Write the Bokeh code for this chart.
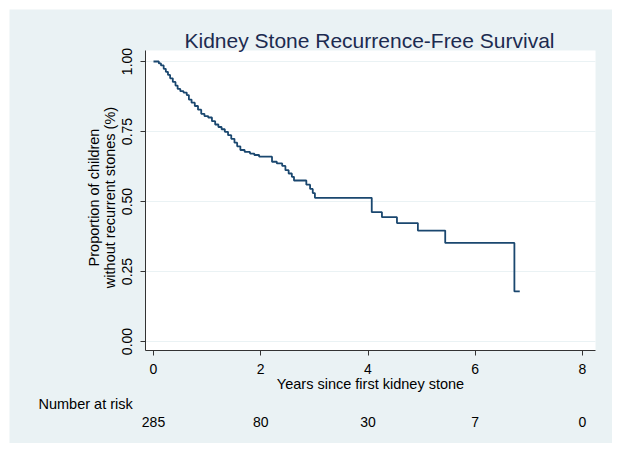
import math
from bokeh.plotting import figure
from bokeh.models import Range1d, FixedTicker, Label, BoxAnnotation
from bokeh.embed import file_html
from bokeh.resources import INLINE

# ---- data ----
times = [0.0, 0.10, 0.14, 0.19, 0.23, 0.27, 0.31, 0.36, 0.41, 0.45, 0.50, 0.56,
         0.62, 0.66, 0.71, 0.77, 0.83, 0.89, 0.95, 1.02, 1.09, 1.15, 1.21, 1.27,
         1.33, 1.39, 1.45, 1.51, 1.56, 1.62, 1.70, 1.80, 1.88, 1.97, 2.21, 2.30,
         2.40, 2.46, 2.52, 2.58, 2.62, 2.85, 2.92, 2.97, 3.01, 4.07, 4.26, 4.54,
         4.93, 5.44, 6.73, 6.83]
surv = [1.0, 0.993, 0.986, 0.974, 0.963, 0.952, 0.940, 0.927, 0.914, 0.902, 0.894, 0.889,
        0.880, 0.864, 0.853, 0.841, 0.828, 0.813, 0.805, 0.800, 0.787, 0.775, 0.766, 0.758,
        0.749, 0.737, 0.724, 0.710, 0.697, 0.684, 0.677, 0.671, 0.666, 0.660, 0.642, 0.636,
        0.627, 0.612, 0.600, 0.588, 0.575, 0.560, 0.545, 0.530, 0.513, 0.462, 0.444, 0.423,
        0.396, 0.352, 0.179, 0.179]

x_ticks = [0, 2, 4, 6, 8]
y_ticks = [0, 0.25, 0.5, 0.75, 1.0]
at_risk = ["285", "80", "30", "7", "0"]

title_text = "Kidney Stone Recurrence-Free Survival"
x_title = "Years since first kidney stone"
y_title = ["Proportion of children", "without recurrent stones (%)"]

# ---- layout constants ----
PANEL = "#EAF2F4"
LINE = "#1A476F"
FONT = "Liberation Sans"

OX, OY = 9, 9          # page offset of the panel
W, H = 603, 434        # panel size (whole canvas is the frame)
PX_X, PX_Y = 53.625, 280.0   # pixels per data unit
X0_PAGE, Y0_PAGE = 153, 341  # page position of data (0, 0)

XS = -(X0_PAGE - OX) / PX_X
XE = XS + W / PX_X
YE = (Y0_PAGE - OY) / PX_Y
YS = YE - H / PX_Y

def vx(px):
    return (px - X0_PAGE) / PX_X

def vy(py):
    return (Y0_PAGE - py) / PX_Y

PL, PR, PB, PT = vx(145), vx(595), vy(350), vy(50)   # white plot region

p = figure(frame_width=W, frame_height=H, output_backend="svg", toolbar_location=None,
           x_range=Range1d(XS, XE), y_range=Range1d(YS, YE),
           min_border=0, min_border_left=0, min_border_right=0,
           min_border_top=0, min_border_bottom=0)
p.title.visible = False
p.margin = (OY, 0, 0, OX)
p.background_fill_color = PANEL
p.border_fill_color = PANEL
p.outline_line_color = None

p.add_layout(BoxAnnotation(left=PL, right=PR, bottom=PB, top=PT, fill_color="white",
                           fill_alpha=1.0, line_color=None, level="underlay"))

p.xgrid.visible = False
p.ygrid.visible = False
p.segment(x0=[PL] * len(y_ticks), x1=[PR] * len(y_ticks), y0=y_ticks, y1=y_ticks,
          line_color=PANEL, line_width=1)

for ax in (p.xaxis[0], p.yaxis[0]):
    ax.axis_line_color = "#333333"
    ax.major_tick_line_color = "#333333"
    ax.major_tick_out = 5
    ax.major_tick_in = 0
    ax.minor_tick_line_color = None
    ax.major_label_text_font = FONT
    ax.major_label_text_font_size = "14px"
    ax.major_label_text_color = "black"

p.xaxis.fixed_location = PB
p.xaxis.bounds = (PL, PR)
p.xaxis.ticker = FixedTicker(ticks=x_ticks)
p.xaxis.major_label_standoff = 8
p.yaxis.fixed_location = PL
p.yaxis.bounds = (PB, PT)
p.yaxis.ticker = FixedTicker(ticks=y_ticks)
p.yaxis.major_label_overrides = {t: f"{t:.2f}" for t in y_ticks}
p.yaxis.major_label_orientation = "parallel"
p.yaxis.major_label_standoff = 9

p.step(times, surv, mode="after", line_color=LINE, line_width=1.8)

# page pixel -> screen units (origin bottom-left of frame == canvas)
def sx(px):
    return px - OX

def sy(py):
    return H - (py - OY)

def lab(px, py, text, size, color="black", angle=0.0, align="center"):
    p.add_layout(Label(x=sx(px), y=sy(py), x_units="screen", y_units="screen",
                       text=text, text_font=FONT, text_font_size=size,
                       text_color=color, angle=angle, text_align=align,
                       text_baseline="middle"))

lab(369, 40, title_text, "21px", color="#1C2B50")
lab(370, 383, x_title, "14.5px")
lab(93, 197, y_title[0], "14.5px", angle=math.pi / 2)
lab(109, 197, y_title[1], "14.5px", angle=math.pi / 2)
lab(38, 403, "Number at risk", "14.5px", align="left")
for t, n in zip(x_ticks, at_risk):
    p.add_layout(Label(x=t, y=sy(421), x_units="data", y_units="screen", text=n,
                       text_font=FONT, text_font_size="14px", text_color="black",
                       text_align="center", text_baseline="middle"))

open("out.html", "w").write(file_html(p, INLINE))
